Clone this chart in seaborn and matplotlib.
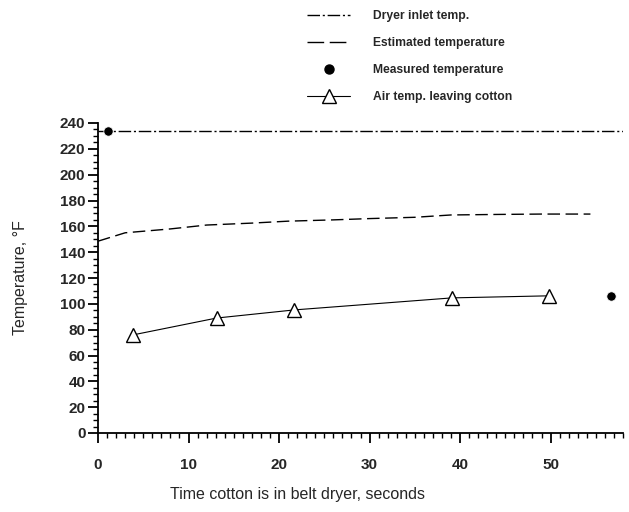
import matplotlib
matplotlib.use("Agg")
import matplotlib.pyplot as plt
from matplotlib.ticker import MultipleLocator
from matplotlib.lines import Line2D
import seaborn as sns

# data
inlet_x = [0, 58]
inlet_y = [234, 234]
est_x = [0, 3, 8, 12, 17, 21, 26, 30, 35, 39, 44, 49, 54.4]
est_y = [148.5, 155, 158, 161, 162.5, 164, 165, 166, 167, 168.8, 169.2, 169.5, 169.5]
meas_x = [1.1, 56.7]
meas_y = [234, 106]
air_x = [3.9, 13.1, 21.7, 39.1, 49.8]
air_y = [76, 89, 95.3, 104.6, 106.2]

sns.set_theme(style="ticks")
plt.rcParams['font.family'] = ['Liberation Sans', 'DejaVu Sans']

fig = plt.figure(figsize=(6.29, 5.12), dpi=100)
ax = fig.add_axes([98/629, 1-433/512, (623-98)/629, (433-123)/512])

sns.lineplot(x=inlet_x, y=inlet_y, ax=ax, color='black', lw=1.0,
             linestyle=(0, (9, 2, 1.5, 2)))
sns.lineplot(x=est_x, y=est_y, ax=ax, color='black', lw=1.0, linestyle=(0, (9, 4)))
sns.lineplot(x=air_x, y=air_y, ax=ax, color='black', lw=0.8, marker='^',
             markersize=10, markerfacecolor='white', markeredgecolor='black',
             markeredgewidth=1.0)
sns.scatterplot(x=meas_x, y=meas_y, ax=ax, color='black', s=45, zorder=5)

ax.set_xlim(0, 58)
ax.set_ylim(0, 240)
ax.xaxis.set_major_locator(MultipleLocator(10))
ax.xaxis.set_minor_locator(MultipleLocator(1))
ax.yaxis.set_major_locator(MultipleLocator(20))
ax.yaxis.set_minor_locator(MultipleLocator(5))
sns.despine(ax=ax)
for s in ['left', 'bottom']:
    ax.spines[s].set_linewidth(1.3)
    ax.spines[s].set_color('black')
ax.tick_params(which='major', length=7, width=1.3, direction='out', color='black')
ax.tick_params(which='minor', length=3.5, width=1.0, direction='out', color='black')
ax.tick_params(axis='x', which='major', pad=11)
ax.tick_params(axis='y', which='major', pad=2)
for lab in ax.get_xticklabels() + ax.get_yticklabels():
    lab.set_fontweight('bold')
    lab.set_fontsize(11)

ax.set_xlabel('Time cotton is in belt dryer, seconds', fontsize=11.5)
ax.xaxis.set_label_coords((298 - 98) / (623 - 98), -54 / 310)
ax.set_ylabel('Temperature, °F', fontsize=11.5)
ax.yaxis.set_label_coords(-70 / 525, 0.5)

handles = [
    Line2D([], [], color='black', lw=1.0, linestyle=(0, (9, 2, 1.5, 2))),
    Line2D([], [], color='black', lw=1.0, linestyle=(0, (12, 4))),
    Line2D([], [], color='black', lw=0, marker='o', markersize=6.5),
    Line2D([], [], color='black', lw=0.8, marker='^', markersize=10,
           markerfacecolor='white', markeredgecolor='black'),
]
labels = ['Dryer inlet temp.', 'Estimated temperature', 'Measured temperature',
          'Air temp. leaving cotton']
fig.legend(handles, labels, loc='upper left', bbox_to_anchor=(296/629, 1+1/512),
           frameon=False, prop={'weight': 'bold', 'size': 8.7},
           handlelength=3.6, labelspacing=1.25, handletextpad=1.9)

fig.savefig('out.png', dpi=100)
